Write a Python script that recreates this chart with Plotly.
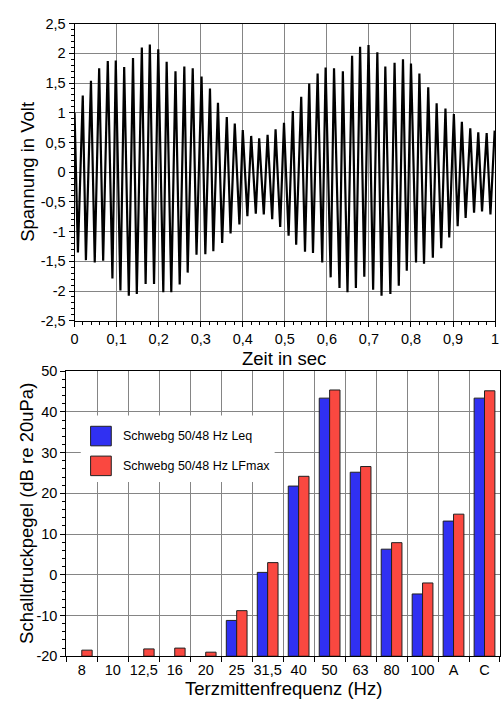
import plotly.graph_objects as go

W, H = 504, 705

# ---------------- top chart: beat signal (peaks / troughs) ----------------
start_t = [0.0]
start_v = [1.0]
peak_t = [0.0195, 0.039, 0.0585, 0.079, 0.098, 0.118, 0.139, 0.160, 0.179, 0.199,
          0.219, 0.240, 0.261, 0.281, 0.302, 0.322, 0.341, 0.362, 0.381, 0.400,
          0.420, 0.439, 0.459, 0.478, 0.498, 0.519, 0.539, 0.558, 0.578, 0.597,
          0.617, 0.638, 0.660, 0.679, 0.699, 0.720, 0.739, 0.761, 0.781, 0.800,
          0.820, 0.841, 0.861, 0.882, 0.902, 0.921, 0.941, 0.960, 0.980, 0.999]
peak_v = [1.29, 1.54, 1.75, 1.87, 1.88, 1.77, 1.92, 2.10, 2.15, 2.07,
          1.86, 1.70, 1.78, 1.75, 1.61, 1.41, 1.17, 0.93, 0.82, 0.71,
          0.61, 0.57, 0.63, 0.72, 0.83, 1.03, 1.27, 1.49, 1.66, 1.76,
          1.75, 1.70, 1.96, 2.11, 2.14, 2.02, 1.78, 1.84, 1.90, 1.83,
          1.66, 1.43, 1.16, 1.07, 0.98, 0.85, 0.74, 0.67, 0.66, 0.70]
trough_t = [0.008, 0.027, 0.048, 0.068, 0.090, 0.109, 0.129, 0.148, 0.169, 0.189,
            0.211, 0.230, 0.250, 0.269, 0.290, 0.311, 0.330, 0.351, 0.371, 0.392,
            0.411, 0.431, 0.450, 0.470, 0.489, 0.509, 0.527, 0.548, 0.567, 0.589,
            0.609, 0.630, 0.649, 0.669, 0.689, 0.710, 0.730, 0.751, 0.771, 0.790,
            0.812, 0.831, 0.852, 0.872, 0.891, 0.911, 0.930, 0.950, 0.969, 0.989]
trough_v = [-1.35, -1.48, -1.52, -1.49, -1.79, -1.99, -2.08, -2.05, -1.88, -1.88,
            -2.02, -2.02, -1.89, -1.69, -1.39, -1.38, -1.33, -1.19, -1.03, -0.88,
            -0.74, -0.70, -0.71, -0.79, -0.92, -1.07, -1.22, -1.34, -1.36, -1.52,
            -1.77, -1.95, -2.02, -1.95, -1.76, -1.98, -2.08, -2.05, -1.91, -1.66,
            -1.52, -1.54, -1.44, -1.28, -1.10, -0.91, -0.77, -0.68, -0.66, -0.71]

top_xticks = [0, 0.1, 0.2, 0.3, 0.4, 0.5, 0.6, 0.7, 0.8, 0.9, 1.0]
top_xlabels = ["0", "0,1", "0,2", "0,3", "0,4", "0,5", "0,6", "0,7", "0,8", "0,9", "1"]
top_yticks = [2.5, 2, 1.5, 1, 0.5, 0, -0.5, -1, -1.5, -2, -2.5]
top_ylabels = ["2,5", "2", "1,5", "1", "0,5", "0", "-0,5", "-1", "-1,5", "-2", "-2,5"]

# ---------------- bottom chart: third-octave levels ----------------
categories = ["8", "10", "12,5", "16", "20", "25", "31,5", "40", "50", "63", "80", "100", "A", "C"]
leq = [None, None, None, None, None, -11.2, 0.6, 21.8, 43.4, 25.2, 6.3, -4.7, 13.2, 43.4]
lfmax = [-18.5, None, -18.2, -18.0, -19.0, -8.8, 3.0, 24.2, 45.4, 26.6, 7.9, -2.0, 14.9, 45.2]
series_names = ["Schwebg 50/48 Hz Leq", "Schwebg 50/48 Hz LFmax"]
bot_yticks = [50, 40, 30, 20, 10, 0, -10, -20]
bot_ylabels = ["50", "40", "30", "20", "10", "0", "-10", "-20"]
BASE = -20

BLUE = "#3030F2"
RED = "#FA4840"
GRID = "#858585"
FONT = "Liberation Sans, Arial, Helvetica, sans-serif"
TICK_SIZE = 14.5
TITLE_SIZE = 18.5

pts = sorted(zip(start_t + peak_t + trough_t, start_v + peak_v + trough_v))
t_all = [p[0] for p in pts]
v_all = [p[1] for p in pts]


def px_x(p):
    return p / W


def px_y(p):
    return 1 - p / H


fig = go.Figure()
fig.add_trace(go.Scatter(x=t_all, y=v_all, mode="lines",
                         line=dict(color="black", width=2.2),
                         xaxis="x", yaxis="y", showlegend=False))

for vals, col, nm in [(leq, BLUE, series_names[0]), (lfmax, RED, series_names[1])]:
    fig.add_trace(go.Bar(x=categories,
                         y=[None if v is None else v - BASE for v in vals],
                         base=BASE, name=nm,
                         marker=dict(color=col, line=dict(color="#202020", width=1)),
                         xaxis="x2", yaxis="y2", showlegend=False))

axis_common = dict(showline=True, linecolor="black", linewidth=1, mirror=True,
                   showgrid=True, gridcolor=GRID, gridwidth=1, zeroline=False,
                   ticks="outside", ticklen=5, tickcolor="black", tickangle=0,
                   tickfont=dict(family=FONT, size=TICK_SIZE, color="black"))

fig.update_layout(
    width=W, height=H, autosize=False,
    margin=dict(l=0, r=0, t=0, b=0),
    paper_bgcolor="white", plot_bgcolor="white",
    font=dict(family=FONT, color="black"),
    barmode="group", bargap=0.33, bargroupgap=0,
    xaxis=dict(domain=[px_x(71.7), px_x(499)], range=[0, 1], anchor="y",
               tickmode="array", tickvals=top_xticks, ticktext=top_xlabels,
               minor=dict(ticks="outside", tick0=0, dtick=0.02, ticklen=3,
                          tickcolor="black", showgrid=False),
               **axis_common),
    yaxis=dict(domain=[px_y(320), px_y(16)], range=[-2.5, 2.5], anchor="x",
               tickmode="array", tickvals=top_yticks, ticktext=top_ylabels,
               minor=dict(ticks="outside", tick0=0, dtick=0.1, ticklen=3,
                          tickcolor="black", showgrid=False),
               **axis_common),
    xaxis2=dict(domain=[px_x(63.3), 1.0], type="category", anchor="y2",
                tickson="boundaries", range=[-0.5, 13.5],
                **axis_common),
    yaxis2=dict(domain=[px_y(663.3), px_y(371.7)], range=[-20, 50], anchor="x2",
                tickmode="array", tickvals=bot_yticks, ticktext=bot_ylabels,
                minor=dict(ticks="outside", tick0=0, dtick=2, ticklen=3,
                           tickcolor="black", showgrid=False),
                **axis_common),
)

ann = []
ann.append(dict(text="Zeit in sec", x=px_x(285), y=px_y(346), xref="paper", yref="paper",
                xanchor="center", yanchor="top", showarrow=False,
                font=dict(family=FONT, size=TITLE_SIZE, color="black")))
ann.append(dict(text="Spannung in Volt", x=px_x(24), y=px_y(168), xref="paper", yref="paper",
                xanchor="center", yanchor="middle", showarrow=False, textangle=-90,
                font=dict(family=FONT, size=TITLE_SIZE, color="black")))
ann.append(dict(text="Terzmittenfrequenz (Hz)", x=px_x(284), y=px_y(696), xref="paper", yref="paper",
                xanchor="center", yanchor="middle", showarrow=False,
                font=dict(family=FONT, size=TITLE_SIZE, color="black")))
ann.append(dict(text="Schalldruckpegel (dB re 20uPa)", x=px_x(23), y=px_y(517), xref="paper", yref="paper",
                xanchor="center", yanchor="middle", showarrow=False, textangle=-90,
                font=dict(family=FONT, size=TITLE_SIZE, color="black")))

# manual legend (large swatches as in the original)
shapes = [dict(type="rect", xref="paper", yref="paper", layer="above",
               x0=px_x(78), x1=px_x(275), y0=px_y(485), y1=px_y(417),
               fillcolor="white", line=dict(width=0))]
for i, (nm, col) in enumerate(zip(series_names, [BLUE, RED])):
    cy = 438 + 30.5 * i
    shapes.append(dict(type="rect", xref="paper", yref="paper", layer="above",
                       x0=px_x(88), x1=px_x(109), y0=px_y(cy + 10), y1=px_y(cy - 10),
                       fillcolor=col, line=dict(color="#202020", width=1)))
    ann.append(dict(text=nm, x=px_x(119), y=px_y(cy), xref="paper", yref="paper",
                    xanchor="left", yanchor="middle", showarrow=False,
                    font=dict(family=FONT, size=12.5, color="black")))

fig.update_layout(annotations=ann, shapes=shapes)
fig.write_html("out.html",
               config={"displayModeBar": False, "responsive": False},
               post_script="document.documentElement.style.margin='0';"
                           "document.documentElement.style.padding='0';"
                           "document.body.style.margin='0';"
                           "document.body.style.padding='0';"
                           "document.documentElement.style.overflow='hidden';"
                           "document.body.style.overflow='hidden';")
